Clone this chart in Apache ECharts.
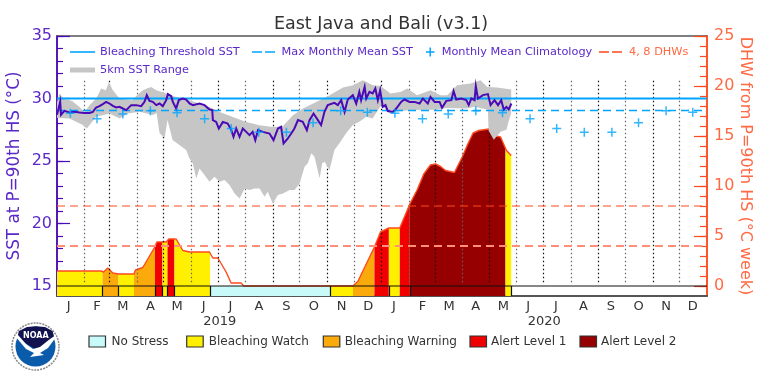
<!DOCTYPE html>
<html>
<head>
<meta charset="utf-8">
<style>html,body{margin:0;padding:0;background:#fff}#c{width:762px;height:381px}</style>
<script src="https://cdn.jsdelivr.net/npm/echarts@6/dist/echarts.min.js"></script>
</head>
<body>
<div id="c"></div>
<script>
// x values are days since 2019-01-01
var monthStarts = [31,59,90,120,151,181,212,243,273,304,334,365,396,425,456,486,517,547,578,609,639,670,700];
var monthMids = [13,45,74,105,135,165,195,227,258,289,320,350,379,411,441,471,502,530,561,592,623,654,685,715];
var monthLabels = ['J','F','M','A','M','J','J','A','S','O','N','D','J','F','M','A','M','J','J','A','S','O','N','D'];
var yearDays = [183,548];
var yearLabels = ['2019','2020'];

var sstDays = [0,2,3.6,4.5,8.4,14,19.7,25.3,31,36.6,40.3,44,47.8,51.5,55.3,59,62.8,66.6,70.3,74,77.8,83.4,89,94.7,98.4,101,104,107.8,111.6,115.3,119,122.8,124.7,128.4,130.3,134,137,141.5,145.3,149,152.8,160.3,165.9,171.5,174.6,175.3,179,182,186.5,192,196,198.5,201.5,205.3,209,212.8,216.5,220,223,226,231.5,239,243.5,248.5,252,254.8,259.6,263.4,267,271,276.4,281,284,288.5,293.4,297,300.8,304.5,312,315.8,319.6,323.4,327,332.7,336.5,340,342,346,347.8,351.4,355,358,360.8,363.4,366.4,369.4,372,377.6,381.5,387,390.8,396.5,402,407.8,411.4,417,420,424.7,430.3,433,437.8,443.5,446,449,454.6,460.3,463,466,469.6,471,473.4,479,484.6,487.6,492,496,499.6,502.4,505.4,508,511];
var sstValues = [28.7,28.8,29.75,28.7,29.01,28.88,28.93,28.88,28.85,28.85,28.93,29.28,29.39,29.55,29.73,29.6,29.41,29.28,29.33,29.2,29.07,29.47,29.47,29.39,29.73,30.27,29.81,29.73,29.47,29.6,29.39,29.87,30.35,30.19,29.73,29.2,29.87,30,29.92,29.6,29.47,29.6,29.47,29.12,29.07,28.27,28.13,27.6,28.13,28,27.47,26.93,27.6,26.93,27.6,27.33,27.07,27.33,26.67,27.47,27.33,27.2,26.67,27.6,27.73,26.4,26.8,27.2,27.6,28.27,28.13,27.47,28.27,28.8,28.27,27.87,28.93,29.47,29.65,29.47,29.87,28.93,29.92,30.27,29.6,30.53,29.87,30.93,30,30.53,30.4,30.8,29.87,30.67,29.33,29.47,29,28.93,29.2,29.73,29.92,29.73,29.73,29.6,30,29.6,30.13,29.73,29.73,29.25,29.81,29.87,30.6,29.92,30,29.87,29.47,30,29.87,31,30,30.27,30.35,29.47,29.87,29.47,29.87,29.12,29.33,29.12,29.6];

var rangeTopDays = [0,2.8,8.4,14,17,25.3,31,36.6,44,47.8,49.6,55,58.3,62.8,70.3,84.7,92,96.6,101,106,111.6,122.8,134,149,160,171.6,182.8,197.8,212.8,227.8,242.8,254,265.3,276.6,291.6,306.6,321.6,332.8,344,355.3,363.8,375,386.3,393.8,405,420,431.3,438.8,450,465,476.3,483.8,495,510.8];
var rangeTopValues = [29.7,30.4,29.93,29.87,29.8,29.33,28.93,29.47,30,30.53,30.8,30.67,31.33,30.67,30,29.87,30.4,30.67,30.8,30.93,30.67,30.4,30.13,29.87,29.6,29.33,28.93,28.53,28.13,27.87,27.73,27.79,28.67,29.2,29.73,30.27,30.88,31.07,31.47,31.07,31,30.4,30.53,30.8,30.27,30.67,30.27,30.27,31.07,31.2,31.47,30.93,30.88,30.72];
var rangeLowDays = [0,14,29,33.5,44,59,70.3,79.7,92.8,107.8,112,115.3,121,124.3,130,145.3,149,152.8,156.6,160.3,165.9,171.5,177.2,182.8,188.4,194,199.7,205.3,211,216.5,222.2,227.8,233.4,237,242.7,248.4,254,261.5,267.2,272.8,278.4,282,286,289.6,295.3,298.3,301,306.5,312,317.8,325.3,332.7,340,347.8,355,364.7,374,381.5,396.5,425,438,460,470,484.6,485.5,491.3,498.8,505.5,508,510.8];
var rangeLowValues = [28.44,28.41,27.88,27.6,28.54,28.81,28.41,28.81,28.94,28.68,28.84,27.24,26.84,28.28,26.68,25.88,25.21,24.81,23.61,24.41,23.88,23.35,23.75,23.35,23.48,23.08,22.41,22.01,22.81,22.68,22.81,22.81,22.15,22.55,21.61,22.28,22.41,22.68,22.68,23.21,24.54,24.82,25.62,25.34,23.62,24.82,24.94,24.28,25.88,26.44,27.24,27.88,28.14,28.54,28.4,29.48,28.84,28.94,29.08,29.1,29.25,29.2,29.35,29.1,27.4,26.7,27.35,27.5,28.2,28.84];

var dhwDays = [0,49.6,52.3,57.1,59,62.8,69.1,86.4,88.3,96.5,110,112.3,122.8,125.8,134,141.5,149,171.5,175.2,180.9,190.2,195.8,207,210.1,332.7,338.3,357,363.8,373.2,385.5,396.8,405,412.5,420,425.7,431.3,436.9,447,455.7,462,468,474.4,485.6,491.3,498.8,505.5,510.8];
var dhwValues = [1.5,1.5,1.4,1.8,1.7,1.3,1.2,1.2,1.6,1.85,3.9,4.4,4.4,4.7,4.7,3.55,3.4,3.4,2.8,2.8,1.4,0.3,0.3,0,0,0.45,3.9,5.4,5.8,5.8,8.2,9.6,11.2,12.1,12.2,11.95,11.55,11.35,12.9,14.2,15.3,15.55,15.7,15.05,14.9,13.55,13.05];

var segmentStarts = [0,51.2,69.2,86.6,110.2,118.6,124.3,132.1,172.1,307,332.9,357,373.2,385.5,396.8,504.4];
var segmentEnds = [51.2,69.2,86.6,110.2,118.6,124.3,132.1,172.1,307,332.9,357,373.2,385.5,396.8,504.4,510.8];
var segmentLevels = [1,2,1,2,3,1,3,1,0,1,2,3,1,3,4,1];
var stripEdges = [51.2,69.2,110.2,118.6,124.3,132.1,172.1,307,373.2,396.8,510.8];
var levelColors = ['#c8fafa','#fff000','#faaa0a','#f00000','#960000'];
var levelNames = ['No Stress','Bleaching Watch','Bleaching Warning','Alert Level 1','Alert Level 2'];

var climatologyDays = [15,45,74,105,135,166,196,227,258,288,319,349,380,411,440,471,501,532,562,593,624,654,685,715];
var climatologyValues = [28.82,28.39,28.76,29.03,28.87,28.39,27.6,27.3,27.3,28.07,29.03,28.9,28.82,28.39,28.76,29.03,28.87,28.39,27.6,27.3,27.3,28.07,29.03,28.9];
var thresholdSST = 30;
var maxMonthlyMean = 29.04;
var dhwLevels = [4,8];

var PURPLE='#4a0ab5', PURPLE_TEXT='#5a28c8', ORANGE='#ff4a1e', ORANGE_TEXT='#ff6a44', BLUE='#00a5ff', GRAY='#c6c6c6', FONT='"DejaVu Sans"';
var X_MAX=731, SST_MIN=14.2, SST_MAX=35, DHW_MIN=-1, DHW_MAX=25;

function seq(a,b){var r=[];for(var i=a;i<=b;i++)r.push(i);return r;}
function zip(a,b){return a.map(function(v,i){return [v,b[i]];});}
function dhwAt(d){
  for(var i=1;i<dhwDays.length;i++){
    if(d<=dhwDays[i]){var t=(d-dhwDays[i-1])/(dhwDays[i]-dhwDays[i-1]);return dhwValues[i-1]+t*(dhwValues[i]-dhwValues[i-1]);}
  }
  return dhwValues[dhwValues.length-1];
}
function yAxis(pos,min,max,color,ticks,len,extra){
  return Object.assign({type:'value',position:pos,min:min,max:max,scale:true,splitLine:{show:false},
    axisLine:{show:true,onZero:false,lineStyle:{color:color,width:1.5}},
    axisTick:{show:true,inside:true,length:len,customValues:ticks,lineStyle:{color:color,width:1.2}},
    axisLabel:{show:false}},extra||{});
}
function hLine(name,y,yIdx,color,width,dash,z){
  return {name:name,type:'line',yAxisIndex:yIdx,data:[[0,y],[X_MAX,y]],symbol:'none',silent:true,z:z,
    lineStyle:{color:color,width:width,type:dash||'solid'}};
}
var dots=monthStarts.map(function(d,i){
  return [{coord:[d,15.3],lineStyle:{color:i%2?'#111':'#666',type:[1.5,2.5],width:1.2}},{coord:[d,31.5]}];
});

var series=[
 {name:'Alert fill',type:'custom',yAxisIndex:1,z:2,silent:true,clip:false,
  data:segmentStarts.map(function(s,i){return [s,segmentEnds[i],segmentLevels[i]];}),
  renderItem:function(p,api){
    var s=api.value(0),e=api.value(1),l=api.value(2),color=levelColors[l],children=[];
    var a=api.coord([s,0]),b=api.coord([e,-1]);
    children.push({type:'rect',shape:{x:a[0],y:a[1],width:b[0]-a[0],height:b[1]-a[1]},style:{fill:color}});
    if(l>0){
      var pts=[api.coord([s,0]),api.coord([s,dhwAt(s)])];
      dhwDays.forEach(function(d,i){if(d>s&&d<e)pts.push(api.coord([d,dhwValues[i]]));});
      pts.push(api.coord([e,dhwAt(e)]),api.coord([e,0]));
      children.push({type:'polygon',shape:{points:pts},style:{fill:color}});
    }
    return {type:'group',children:children};
  }},
 {name:'DHW',type:'line',yAxisIndex:1,data:zip(dhwDays,dhwValues),symbol:'none',z:3,silent:true,lineStyle:{color:ORANGE,width:1.4}},
 {name:'Stress strip',type:'line',yAxisIndex:1,data:[[0,0],[X_MAX,0]],symbol:'none',z:4,silent:true,lineStyle:{color:'#111',width:1.2},
  markLine:{silent:true,symbol:'none',animation:false,label:{show:false},lineStyle:{color:'#111',width:1.2,type:'solid'},
   data:stripEdges.map(function(d){return [{coord:[d,-1]},{coord:[d,0]}];})}},
 {name:'Months',type:'line',yAxisIndex:0,data:[],symbol:'none',z:5,silent:true,
  markLine:{silent:true,symbol:'none',animation:false,label:{show:false},data:dots}},
 {name:'5km SST Range',type:'custom',yAxisIndex:0,z:6,silent:true,clip:false,data:[[0,0]],
  renderItem:function(p,api){
    var pts=[];
    rangeTopDays.forEach(function(d,i){pts.push(api.coord([d,rangeTopValues[i]]));});
    for(var i=rangeLowDays.length-1;i>=0;i--)pts.push(api.coord([rangeLowDays[i],rangeLowValues[i]]));
    return {type:'polygon',shape:{points:pts},style:{fill:GRAY}};
  }},
 hLine('4 DHW',dhwLevels[0],1,'#ff8f76',2,[8,5],7),
 hLine('8 DHW',dhwLevels[1],1,ORANGE,1.2,[8,5],7),
 hLine('Max Monthly Mean SST',maxMonthlyMean,0,BLUE,1.4,[8,5],7),
 hLine('Bleaching Threshold SST',thresholdSST,0,BLUE,1.8,'solid',8),
 {name:'SST',type:'line',yAxisIndex:0,data:zip(sstDays,sstValues),symbol:'none',z:9,silent:true,lineStyle:{color:PURPLE,width:2,join:'miter'}},
 {name:'Monthly Mean Climatology',type:'scatter',yAxisIndex:0,data:zip(climatologyDays,climatologyValues),z:10,silent:true,
  symbol:'path://M0,5L10,5M5,0L5,10',symbolSize:9,itemStyle:{color:'rgba(0,0,0,0)',borderColor:BLUE,borderWidth:1.5}}
];

function txt(x,y,s,fill,size,align){
  return {type:'text',x:x,y:y,z:50,silent:true,style:{text:s,fill:fill,font:size+'px '+FONT,textAlign:align||'left',textVerticalAlign:'middle'}};
}
function seg(x1,y1,x2,y2,color,w,dash){
  return {type:'line',z:50,silent:true,shape:{x1:x1,y1:y1,x2:x2,y2:y2},style:{stroke:color,lineWidth:w,lineDash:dash||null}};
}
var boxX=[89,186.7,323.3,470,580], nameX=[111.5,208.7,344.7,491,601];
var graphics=[
 txt(381,24,'East Java and Bali (v3.1)','#333',17.5,'center'),
 seg(70,52,95,52,BLUE,1.6), txt(100,52,'Bleaching Threshold SST',PURPLE_TEXT,11.3),
 seg(252,52,275,52,BLUE,1.6,[10,3]), txt(281.5,52,'Max Monthly Mean SST',PURPLE_TEXT,11.3),
 seg(426,52,434.5,52,BLUE,1.5), seg(430.2,47.5,430.2,56.5,BLUE,1.5), txt(441.7,52,'Monthly Mean Climatology',PURPLE_TEXT,11.3),
 seg(599,52,622,52,ORANGE,1.4,[10,3]), txt(629,52,'4, 8 DHWs',ORANGE_TEXT,11.3),
 seg(70,70,95,70,GRAY,5), txt(100,70,'5km SST Range',PURPLE_TEXT,11.3),
 // NOAA emblem
 {type:'circle',z:50,silent:true,shape:{cx:35.5,cy:346.5,r:23.5},style:{fill:'#fff',stroke:'#8a8a8a',lineWidth:1.5,lineDash:[2,1]}},
 {type:'circle',z:51,silent:true,shape:{cx:35.5,cy:346.5,r:20},style:{fill:'#0a5cab'}},
 {type:'polygon',z:52,silent:true,shape:{points:[[17,338],[19,331],[27,327],[36,326.3],[45,327],[52.5,331],[54.5,338],[36,349.5]]},style:{fill:'#12124f'}},
 {type:'polygon',z:53,silent:true,shape:{points:[[15,336],[18,335],[26,344],[33,349],[40,347],[50,339],[56,335],[56,337],[48,348],[40,353],[44,355],[30,357],[34,353],[26,349]]},style:{fill:'#fff'}},
 {type:'text',x:35.8,y:335.5,z:54,silent:true,style:{text:'NOAA',fill:'#fff',font:'bold 8px '+FONT,textAlign:'center',textVerticalAlign:'middle'}}
];
levelNames.forEach(function(n,i){
  graphics.push({type:'rect',z:50,silent:true,shape:{x:boxX[i],y:336,width:16.5,height:11},style:{fill:levelColors[i],stroke:'#333',lineWidth:1.2}});
  graphics.push(txt(nameX[i],342,n,'#333',12));
});

var chart=echarts.init(document.getElementById('c'),null,{renderer:'canvas'});
chart.setOption({
 animation:false,backgroundColor:'#fff',
 grid:{left:57,top:36,width:650,height:260,containLabel:false,outerBoundsMode:'none'},
 tooltip:{show:false},legend:{show:false},
 xAxis:[
  {type:'value',position:'bottom',min:0,max:X_MAX,splitLine:{show:false},
   axisLine:{show:true,onZero:false,lineStyle:{color:'#555',width:2}},axisTick:{show:false},
   axisLabel:{show:true,customValues:monthMids,margin:4,color:'#333',fontFamily:FONT,fontSize:13,hideOverlap:false,
    formatter:function(v){return monthLabels[monthMids.indexOf(v)];}}},
  {type:'value',position:'bottom',min:0,max:X_MAX,splitLine:{show:false},axisLine:{show:false},axisTick:{show:false},
   axisLabel:{show:true,customValues:yearDays,margin:19,color:'#333',fontFamily:FONT,fontSize:13,
    formatter:function(v){return yearLabels[yearDays.indexOf(v)];}}},
  {type:'value',position:'top',min:0,max:X_MAX,splitLine:{show:false},axisLine:{show:true,onZero:false,lineStyle:{color:'#555',width:1.5}},axisTick:{show:false},axisLabel:{show:false}}
 ],
 yAxis:[
  yAxis('left',SST_MIN,SST_MAX,PURPLE,[15,20,25,30,35],13,{
    name:'SST at P=90th HS (°C)',nameLocation:'middle',nameGap:34,nameRotate:90,nameMoveOverlap:false,
    nameTextStyle:{color:PURPLE_TEXT,fontFamily:FONT,fontSize:16.8},
    axisLabel:{show:true,customValues:[15,20,25,30,35],margin:5,color:PURPLE_TEXT,fontFamily:FONT,fontSize:16}}),
  yAxis('right',DHW_MIN,DHW_MAX,ORANGE,[0,5,10,15,20,25],13,{
    name:'DHW from P=90th HS (°C week)',nameLocation:'middle',nameGap:30,nameRotate:-90,nameMoveOverlap:false,
    nameTextStyle:{color:ORANGE_TEXT,fontFamily:FONT,fontSize:16},
    axisLabel:{show:true,customValues:[0,5,10,15,20,25],margin:7,color:ORANGE_TEXT,fontFamily:FONT,fontSize:16}}),
  yAxis('left',SST_MIN,SST_MAX,PURPLE,seq(15,35),6),
  yAxis('right',DHW_MIN,DHW_MAX,ORANGE,seq(0,25),7)
 ],
 series:series,
 graphic:{elements:graphics}
});
</script>
</body>
</html>
